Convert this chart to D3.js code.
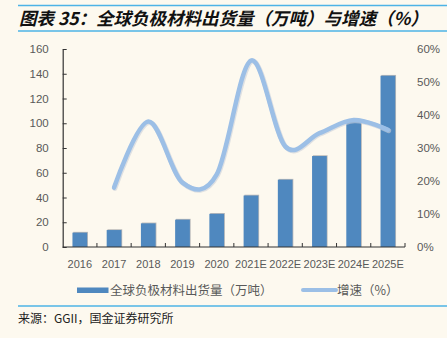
<!DOCTYPE html>
<html>
<head>
<meta charset="utf-8">
<script src="https://cdn.jsdelivr.net/npm/d3@7"></script>
<style>
  html, body { margin: 0; padding: 0; background: #fdf9ef; }
  svg { display: block; }
</style>
</head>
<body>
<svg id="chart" width="447" height="338"></svg>
<script>
// Global anode material shipments (10k tonnes) and year-on-year growth (%)
const years = ["2016", "2017", "2018", "2019", "2020", "2021E", "2022E", "2023E", "2024E", "2025E"];
const shipments = [11.6, 13.7, 19.1, 22.1, 26.8, 41.6, 54.4, 73.5, 101.5, 138.4];
const growth = [null, 18.0, 38.0, 19.5, 22.0, 56.5, 30.5, 34.5, 38.5, 35.5];
const leftTicks = [0, 20, 40, 60, 80, 100, 120, 140, 160];
const rightTicks = [0, 10, 20, 30, 40, 50, 60];

const titleText = "图表 35：全球负极材料出货量（万吨）与增速（%）";
const legendBar = "全球负极材料出货量（万吨）";
const legendLine = "增速（%）";
const sourceText = "来源：GGII，国金证券研究所";

const svg = d3.select("#chart");
const W = 447, H = 338;
const m = { left: 62.7, right: 405, top: 49, bottom: 247 };

svg.append("rect").attr("width", W).attr("height", H).attr("fill", "#fdf9ef");

// Header rules and title
const rule = "#4db3e6";
svg.append("line").attr("x1", 18).attr("x2", 447).attr("y1", 5.5).attr("y2", 5.5)
  .attr("stroke", rule).attr("stroke-width", 1.5);
svg.append("line").attr("x1", 18).attr("x2", 447).attr("y1", 31).attr("y2", 31)
  .attr("stroke", rule).attr("stroke-width", 1.5);
svg.append("text").attr("x", 19).attr("y", 25)
  .attr("font-family", "'Noto Sans CJK SC', sans-serif")
  .attr("font-size", 17.5).attr("font-weight", "bold").attr("font-style", "italic")
  .attr("fill", "#111").text(titleText);

// Scales
const x = d3.scaleBand().domain(years).range([m.left, m.right]).paddingInner(0.57).paddingOuter(0.285);
const xc = d3.scaleBand().domain(years).range([m.left, m.right]);
const yL = d3.scaleLinear().domain([0, 160]).range([m.bottom, m.top]);
const yR = d3.scaleLinear().domain([0, 60]).range([m.bottom, m.top]);

const labelFont = "'Liberation Sans', Arial, sans-serif";
const grayText = "#595959";

// Bars with a faint shadow edge
const bars = svg.append("g");
bars.selectAll("rect.shadow").data(years).join("rect")
  .attr("class", "shadow")
  .attr("x", d => x(d) + 0.8)
  .attr("y", (d, i) => yL(shipments[i]) - 0.8)
  .attr("width", x.bandwidth())
  .attr("height", (d, i) => yL(0) - yL(shipments[i]) + 0.8)
  .attr("fill", "#b9b9b9");
bars.selectAll("rect.bar").data(years).join("rect")
  .attr("class", "bar")
  .attr("x", d => x(d))
  .attr("y", (d, i) => yL(shipments[i]))
  .attr("width", x.bandwidth())
  .attr("height", (d, i) => yL(0) - yL(shipments[i]))
  .attr("fill", "#4f88bf");

// Left axis
const axL = svg.append("g").attr("transform", `translate(${m.left},0)`)
  .call(d3.axisLeft(yL).tickValues(leftTicks).tickSizeInner(-4).tickSizeOuter(0).tickPadding(14));
axL.select(".domain").attr("stroke", "#333").attr("stroke-width", 1.2);
axL.selectAll(".tick line").attr("stroke", "#333");
axL.selectAll("text").attr("font-family", labelFont).attr("font-size", 11.5).attr("fill", grayText);

// Right axis (labels only)
const axR = svg.append("g").attr("transform", `translate(${m.right},0)`)
  .call(d3.axisRight(yR).tickValues(rightTicks).tickSize(0).tickPadding(12).tickFormat(d => d + "%"));
axR.select(".domain").remove();
axR.selectAll("text").attr("font-family", labelFont).attr("font-size", 11.5).attr("fill", grayText);

// Bottom axis: ticks at category boundaries
const axB = svg.append("g").attr("transform", `translate(0,${m.bottom})`);
axB.append("line").attr("x1", m.left).attr("x2", m.right).attr("stroke", "#333").attr("stroke-width", 1.2);
axB.selectAll("line.tk").data(years.slice(1).concat(["end"])).join("line")
  .attr("class", "tk")
  .attr("x1", d => d === "end" ? m.right : xc(d))
  .attr("x2", d => d === "end" ? m.right : xc(d))
  .attr("y1", 0).attr("y2", -4).attr("stroke", "#333");
axB.selectAll("text").data(years).join("text")
  .attr("x", d => xc(d) + xc.bandwidth() / 2)
  .attr("y", 21)
  .attr("text-anchor", "middle")
  .attr("font-family", labelFont).attr("font-size", 11).attr("fill", grayText)
  .text(d => d);

// Growth line (smoothed)
const pts = years.map((d, i) => [xc(d) + xc.bandwidth() / 2, growth[i]]).filter(p => p[1] != null);
const line = d3.line().x(p => p[0]).y(p => yR(p[1])).curve(d3.curveCardinal.tension(0));
svg.append("path").attr("d", line(pts)).attr("fill", "none")
  .attr("stroke", "#c9cfd8").attr("stroke-width", 5).attr("stroke-linecap", "round")
  .attr("transform", "translate(0.8,0.8)").attr("opacity", 0.6);
svg.append("path").attr("d", line(pts)).attr("fill", "none")
  .attr("stroke", "#9cbfe6").attr("stroke-width", 4.5).attr("stroke-linecap", "round");

// Legend
const lg = svg.append("g");
lg.append("rect").attr("x", 77).attr("y", 287.5).attr("width", 31.5).attr("height", 5.5).attr("fill", "#4f88bf");
lg.append("text").attr("x", 110).attr("y", 295)
  .attr("font-family", "'Noto Sans CJK SC', sans-serif").attr("font-size", 12.5).attr("fill", grayText)
  .text(legendBar);
lg.append("line").attr("x1", 303).attr("x2", 336).attr("y1", 290).attr("y2", 290)
  .attr("stroke", "#9cbfe6").attr("stroke-width", 4).attr("stroke-linecap", "round");
lg.append("text").attr("x", 337).attr("y", 295)
  .attr("font-family", "'Noto Sans CJK SC', sans-serif").attr("font-size", 12.5).attr("fill", grayText)
  .text(legendLine);

// Footer rule and source
svg.append("line").attr("x1", 18).attr("x2", 447).attr("y1", 306).attr("y2", 306)
  .attr("stroke", rule).attr("stroke-width", 1.5);
svg.append("text").attr("x", 18).attr("y", 322.5)
  .attr("font-family", "'Noto Sans CJK SC', sans-serif").attr("font-size", 12).attr("fill", "#222")
  .text(sourceText);
</script>
</body>
</html>
